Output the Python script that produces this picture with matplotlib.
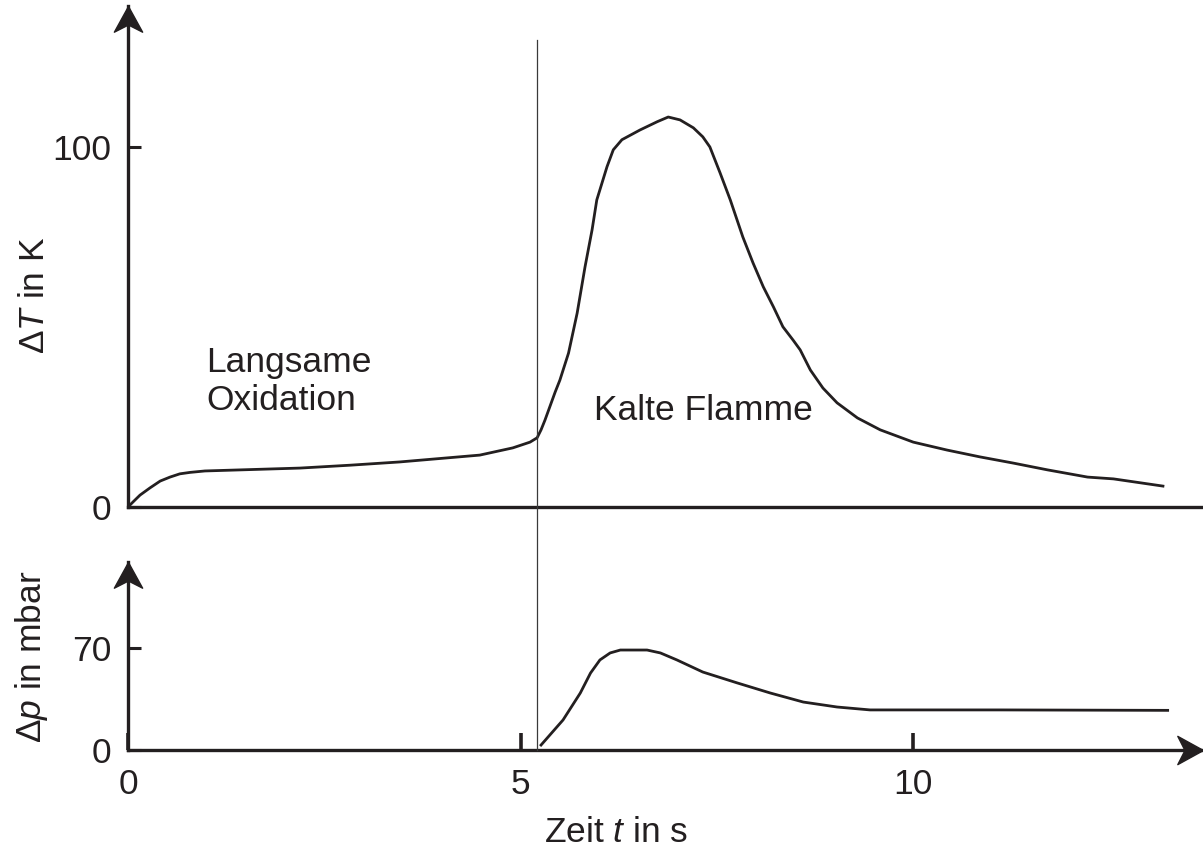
import matplotlib
matplotlib.use("Agg")
import matplotlib.pyplot as plt
from matplotlib.lines import Line2D
from matplotlib.path import Path
from matplotlib.transforms import blended_transform_factory

plt.rcParams["font.family"] = ["Liberation Sans", "DejaVu Sans"]
plt.rcParams["mathtext.fontset"] = "custom"
plt.rcParams["mathtext.it"] = "Liberation Sans:italic"
plt.rcParams["mathtext.rm"] = "Liberation Sans"

INK = "#231f20"

# temperature rise (top panel)
t_temp = [0, 0.064, 0.153, 0.28, 0.41, 0.535, 0.66, 0.79, 0.98, 2.19, 2.83,
          3.46, 4.48, 4.90, 5.12, 5.21, 5.26, 5.31, 5.38, 5.44, 5.50, 5.61,
          5.72, 5.82, 5.91, 5.97, 6.10, 6.18, 6.29, 6.52, 6.74, 6.88, 7.03,
          7.20, 7.32, 7.41, 7.54, 7.67, 7.83, 7.96, 8.09, 8.22, 8.34, 8.47,
          8.56, 8.69, 8.85, 9.03, 9.29, 9.58, 10.0, 10.43, 10.85, 11.27,
          11.71, 12.22, 12.55, 13.18]
dT = [0, 1.4, 3.3, 5.3, 7.2, 8.3, 9.2, 9.6, 10.0, 10.8, 11.6,
      12.5, 14.4, 16.4, 18.0, 19.2, 21.4, 24.1, 28.3, 31.9, 35.2, 42.7,
      53.8, 66.6, 76.9, 85.2, 94.4, 99.1, 101.9, 104.6, 106.9, 108.2, 107.4,
      105.2, 102.7, 99.9, 92.7, 85.2, 74.9, 67.7, 61.1, 55.5, 50.0, 46.3,
      43.6, 38.0, 33.0, 28.9, 24.7, 21.4, 18.0, 15.8, 13.9, 12.2,
      10.3, 8.3, 7.8, 5.8]

# pressure rise (bottom panel)
t_p = [5.26, 5.54, 5.76, 5.89, 6.01, 6.14, 6.27, 6.61, 6.78, 6.99, 7.32,
       7.76, 8.18, 8.60, 9.03, 9.45, 10.09, 11.11, 13.24]
dp = [3.4, 20.6, 39.1, 52.8, 61.8, 66.6, 68.6, 68.6, 66.6, 61.8, 53.5,
      46.0, 39.1, 32.9, 29.5, 27.5, 27.5, 27.5, 27.2]

t_onset = 5.21
T_ticks = [0, 100]
p_ticks = [0, 70]
t_ticks = [0, 5, 10]

T_max = 139
p_max = 129
t_max = 13.69

W, H = 1203, 857
fig = plt.figure(figsize=(W / 100, H / 100), dpi=100)
left = 128 / W
width = 1 - left
ax_T = fig.add_axes([left, (H - 507) / H, width, (507 - 6) / H])
ax_p = fig.add_axes([left, (H - 750) / H, width, (750 - 562) / H])

# stealth-style arrowhead, tip at the origin
head_up = Path([(0, 0), (-0.55, -1), (0, -0.72), (0.55, -1), (0, 0)],
               [Path.MOVETO, Path.LINETO, Path.LINETO, Path.LINETO, Path.CLOSEPOLY])
head_right = Path([(0, 0), (-1, 0.55), (-0.72, 0), (-1, -0.55), (0, 0)],
                  [Path.MOVETO, Path.LINETO, Path.LINETO, Path.LINETO, Path.CLOSEPOLY])

for ax in (ax_T, ax_p):
    ax.set_xlim(0, t_max)
    for side in ("top", "right"):
        ax.spines[side].set_visible(False)
    for side in ("left", "bottom"):
        ax.spines[side].set_linewidth(2.4)
        ax.spines[side].set_color(INK)
    ax.tick_params(axis="both", direction="in", length=9, width=2.2,
                   color=INK, labelcolor=INK, labelsize=25.5)
    ax.tick_params(axis="y", pad=12)
    ax.tick_params(axis="x", pad=13)
    ax.patch.set_alpha(0)

ax_T.set_ylim(0, T_max)
ax_T.set_yticks(T_ticks)
ax_T.set_xticks([])
ax_T.plot(t_temp, dT, color=INK, lw=2.0, solid_joinstyle="round")
ax_T.plot([0], [T_max], marker=head_up, markersize=37, color=INK, clip_on=False)

ax_p.set_ylim(0, p_max)
ax_p.set_yticks(p_ticks)
ax_p.set_xticks(t_ticks)
ax_p.tick_params(axis="x", length=12, width=2.6)
ax_p.plot(t_p, dp, color=INK, lw=2.0, solid_joinstyle="round")
ax_p.plot([0], [p_max], marker=head_up, markersize=37, color=INK, clip_on=False)
ax_p.plot([t_max], [0], marker=head_right, markersize=37, color=INK, clip_on=False)

# onset marker across both panels
trans = blended_transform_factory(ax_T.transData, fig.transFigure)
fig.add_artist(Line2D([t_onset, t_onset], [(H - 750) / H, (H - 40) / H],
                      transform=trans, color="#3a3a3a", lw=0.9))

ax_T.text(1.0, 26.9, "Langsame\nOxidation", fontsize=25.5, color=INK,
          ha="left", va="baseline", linespacing=1.2)
ax_T.text(5.93, 24.1, "Kalte Flamme", fontsize=25.5, color=INK,
          ha="left", va="baseline")

fig.text(34 / W, 1 - 295 / H, r"Δ$T$ in K", rotation=90, fontsize=25.5,
         color=INK, ha="center", va="center")
fig.text(32 / W, 1 - 657 / H, r"Δ$p$ in mbar", rotation=90, fontsize=25.5,
         color=INK, ha="center", va="center")
fig.text(616 / W, 1 - 832 / H, r"Zeit $t$ in s", fontsize=25.5, color=INK,
         ha="center", va="center")

fig.savefig("out.png", dpi=100)
